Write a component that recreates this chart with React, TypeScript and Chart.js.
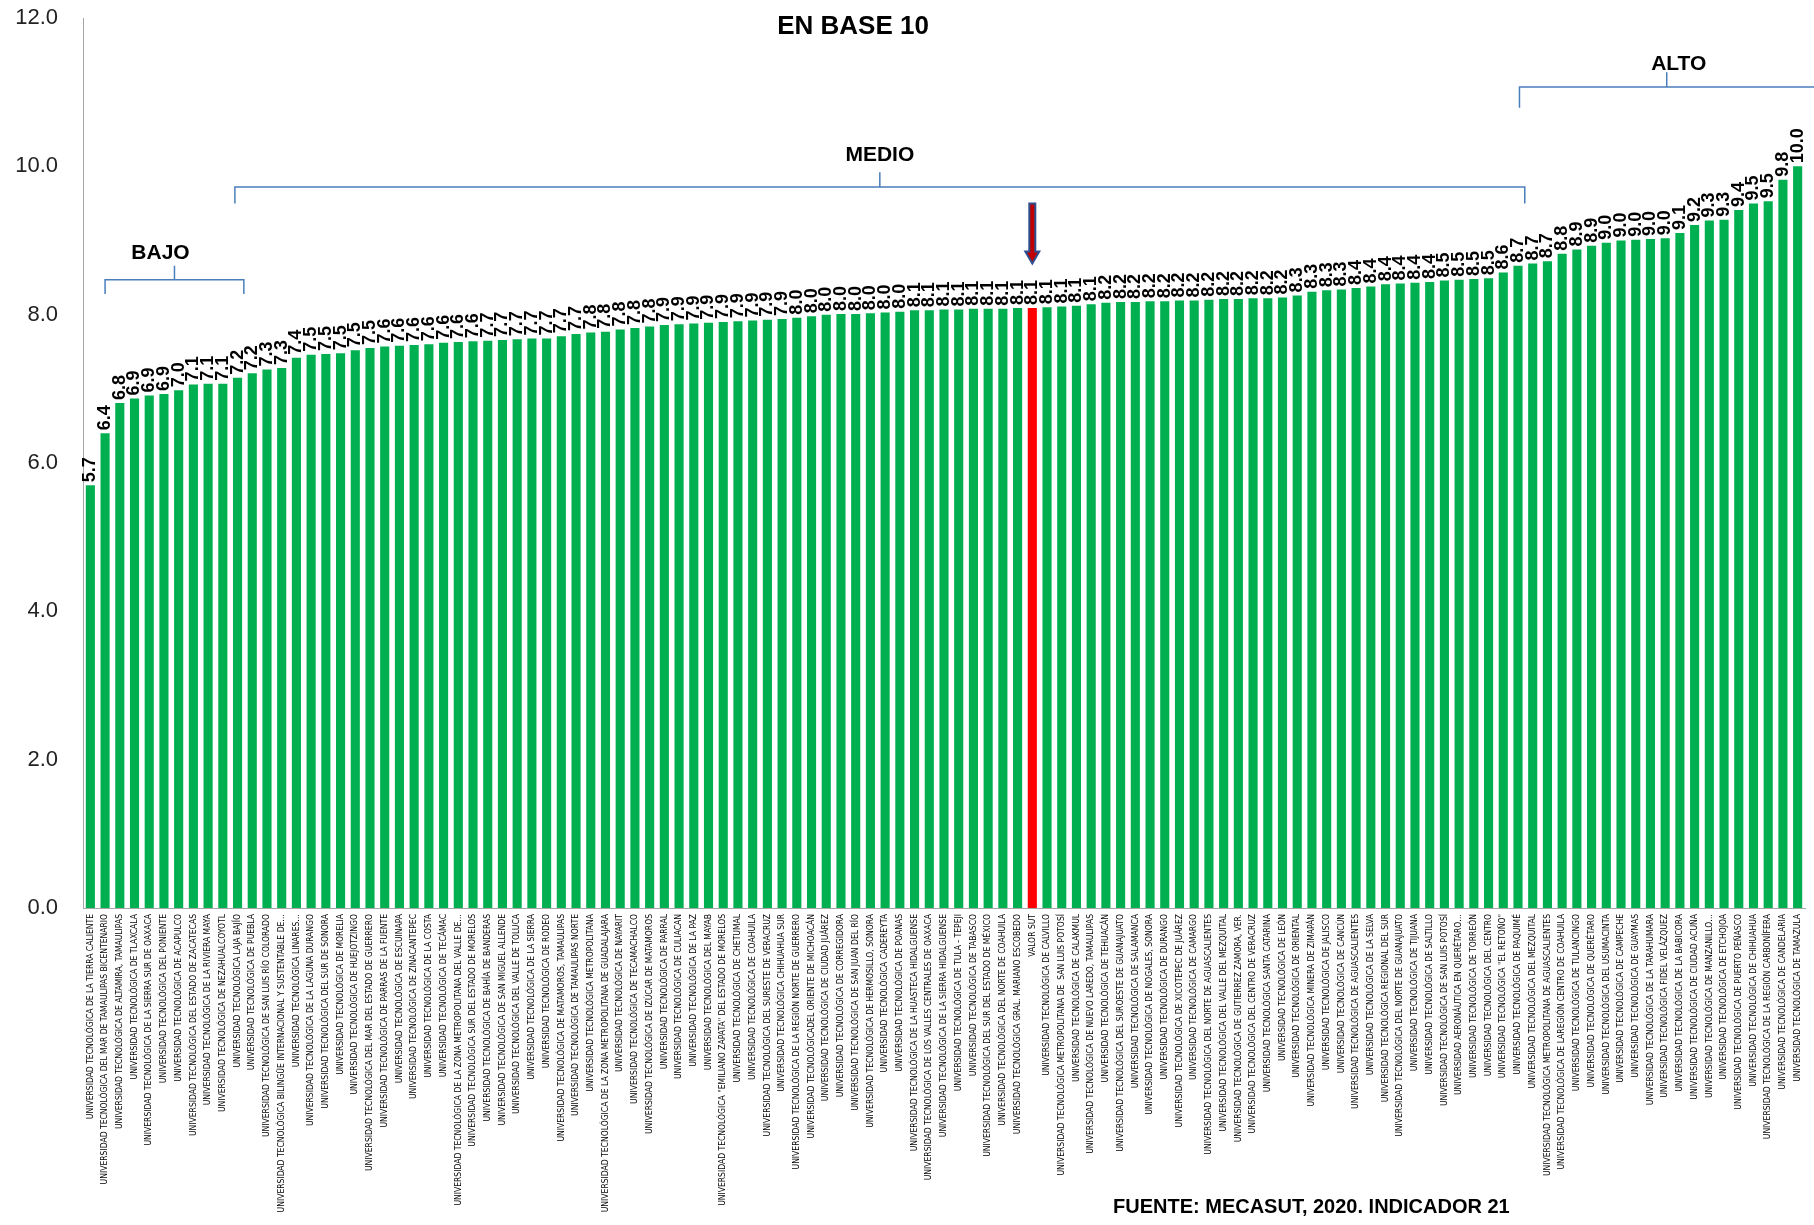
import React, { useEffect, useRef } from 'react';
import { Chart, registerables } from 'chart.js';

Chart.register(...registerables);

const categories: string[] = [
  'UNIVERSIDAD TECNOLÓGICA DE LA TIERRA CALIENTE',
  'UNIVERSIDAD TECNOLÓGICA DEL MAR DE TAMAULIPAS BICENTENARIO',
  'UNIVERSIDAD TECNOLÓGICA DE ALTAMIRA, TAMAULIPAS',
  'UNIVERSIDAD TECNOLÓGICA DE TLAXCALA',
  'UNIVERSIDAD TECNOLÓGICA DE LA SIERRA SUR DE OAXACA',
  'UNIVERSIDAD TECNOLÓGICA DEL PONIENTE',
  'UNIVERSIDAD TECNOLÓGICA DE ACAPULCO',
  'UNIVERSIDAD TECNOLÓGICA DEL ESTADO DE ZACATECAS',
  'UNIVERSIDAD TECNOLÓGICA DE LA RIVIERA MAYA',
  'UNIVERSIDAD TECNOLÓGICA DE NEZAHUALCOYOTL',
  'UNIVERSIDAD TECNOLÓGICA LAJA BAJÍO',
  'UNIVERSIDAD TECNOLÓGICA DE PUEBLA',
  'UNIVERSIDAD TECNOLÓGICA DE SAN LUIS RÍO COLORADO',
  'UNIVERSIDAD TECNOLÓGICA BILINGÜE INTERNACIONAL Y SUSTENTABLE DE…',
  'UNIVERSIDAD TECNOLÓGICA LINARES…',
  'UNIVERSIDAD TECNOLÓGICA DE LA LAGUNA DURANGO',
  'UNIVERSIDAD TECNOLÓGICA DEL SUR DE SONORA',
  'UNIVERSIDAD TECNOLÓGICA DE MORELIA',
  'UNIVERSIDAD TECNOLÓGICA DE HUEJOTZINGO',
  'UNIVERSIDAD TECNOLÓGICA DEL MAR DEL ESTADO DE GUERRERO',
  'UNIVERSIDAD TECNOLÓGICA DE PARRAS DE LA FUENTE',
  'UNIVERSIDAD TECNOLÓGICA DE ESCUINAPA',
  'UNIVERSIDAD TECNOLÓGICA DE ZINACANTEPEC',
  'UNIVERSIDAD TECNOLÓGICA DE LA COSTA',
  'UNIVERSIDAD TECNOLÓGICA DE TECÁMAC',
  'UNIVERSIDAD TECNOLÓGICA DE LA ZONA METROPOLITANA DEL VALLE DE…',
  'UNIVERSIDAD TECNOLÓGICA SUR DEL ESTADO DE MORELOS',
  'UNIVERSIDAD TECNOLÓGICA DE BAHÍA DE BANDERAS',
  'UNIVERSIDAD TECNOLÓGICA DE SAN MIGUEL ALLENDE',
  'UNIVERSIDAD TECNOLÓGICA DEL VALLE DE TOLUCA',
  'UNIVERSIDAD TECNOLÓGICA DE LA SIERRA',
  'UNIVERSIDAD TECNOLÓGICA DE RODEO',
  'UNIVERSIDAD TECNOLÓGICA DE MATAMOROS, TAMAULIPAS',
  'UNIVERSIDAD TECNOLÓGICA DE TAMAULIPAS NORTE',
  'UNIVERSIDAD TECNOLÓGICA METROPOLITANA',
  'UNIVERSIDAD TECNOLÓGICA DE LA ZONA METROPOLITANA DE GUADALAJARA',
  'UNIVERSIDAD TECNOLÓGICA DE NAYARIT',
  'UNIVERSIDAD TECNOLÓGICA DE TECAMACHALCO',
  'UNIVERSIDAD TECNOLÓGICA DE IZÚCAR DE MATAMOROS',
  'UNIVERSIDAD TECNOLÓGICA DE PARRAL',
  'UNIVERSIDAD TECNOLÓGICA DE CULIACAN',
  'UNIVERSIDAD TECNOLÓGICA DE LA PAZ',
  'UNIVERSIDAD TECNOLÓGICA DEL MAYAB',
  'UNIVERSIDAD TECNOLÓGICA "EMILIANO ZAPATA" DEL ESTADO DE MORELOS',
  'UNIVERSIDAD TECNOLÓGICA DE CHETUMAL',
  'UNIVERSIDAD TECNOLÓGICA DE COAHUILA',
  'UNIVERSIDAD TECNOLÓGICA DEL SURESTE DE VERACRUZ',
  'UNIVERSIDAD TECNOLÓGICA CHIHUAHUA SUR',
  'UNIVERSIDAD TECNOLÓGICA DE LA REGIÓN NORTE DE GUERRERO',
  'UNIVERSIDAD TECNOLÓGICADEL ORIENTE DE MICHOACÁN',
  'UNIVERSIDAD TECNOLÓGICA DE CIUDAD JUÁREZ',
  'UNIVERSIDAD TECNOLÓGICA DE CORREGIDORA',
  'UNIVERSIDAD TECNOLÓGICA DE SAN JUAN DEL RÍO',
  'UNIVERSIDAD TECNOLÓGICA DE HERMOSILLO, SONORA',
  'UNIVERSIDAD TECNOLÓGICA CADEREYTA',
  'UNIVERSIDAD TECNOLÓGICA DE POANAS',
  'UNIVERSIDAD TECNOLÓGICA DE LA HUASTECA HIDALGUENSE',
  'UNIVERSIDAD TECNOLÓGICA DE LOS VALLES CENTRALES DE OAXACA',
  'UNIVERSIDAD TECNOLÓGICA DE LA SIERRA HIDALGUENSE',
  'UNIVERSIDAD TECNOLÓGICA DE TULA - TEPEJI',
  'UNIVERSIDAD TECNOLÓGICA DE TABASCO',
  'UNIVERSIDAD TECNOLÓGICA DEL SUR DEL ESTADO DE MÉXICO',
  'UNIVERSIDAD TECNOLÓGICA DEL NORTE DE COAHUILA',
  'UNIVERSIDAD TECNOLÓGICA GRAL. MARIANO ESCOBEDO',
  'VALOR SUT',
  'UNIVERSIDAD TECNOLÓGICA DE CALVILLO',
  'UNIVERSIDAD TECNOLÓGICA METROPOLITANA DE  SAN LUIS POTOSÍ',
  'UNIVERSIDAD TECNOLÓGICA DE CALAKMUL',
  'UNIVERSIDAD TECNOLÓGICA DE NUEVO LAREDO, TAMAULIPAS',
  'UNIVERSIDAD TECNOLÓGICA DE TEHUACÁN',
  'UNIVERSIDAD TECNOLÓGICA DEL SUROESTE DE GUANAJUATO',
  'UNIVERSIDAD TECNOLÓGICA DE SALAMANCA',
  'UNIVERSIDAD TECNOLÓGICA DE NOGALES, SONORA',
  'UNIVERSIDAD TECNOLÓGICA DE DURANGO',
  'UNIVERSIDAD TECNOLÓGICA DE XICOTEPEC DE JUÁREZ',
  'UNIVERSIDAD TECNOLÓGICA DE CAMARGO',
  'UNIVERSIDAD TECNOLÓGICA DEL NORTE DE AGUASCALIENTES',
  'UNIVERSIDAD TECNOLÓGICA DEL VALLE DEL MEZQUITAL',
  'UNIVERSIDAD TECNOLÓGICA DE GUTIERREZ ZAMORA, VER.',
  'UNIVERSIDAD TECNOLÓGICA DEL CENTRO DE VERACRUZ',
  'UNIVERSIDAD TECNOLÓGICA SANTA CATARINA',
  'UNIVERSIDAD TECNOLÓGICA DE LEÓN',
  'UNIVERSIDAD TECNOLÓGICA DE ORIENTAL',
  'UNIVERSIDAD TECNOLÓGICA MINERA DE ZIMAPÁN',
  'UNIVERSIDAD TECNOLÓGICA DE JALISCO',
  'UNIVERSIDAD TECNOLÓGICA DE CANCÚN',
  'UNIVERSIDAD TECNOLÓGICA DE AGUASCALIENTES',
  'UNIVERSIDAD TECNOLÓGICA DE LA SELVA',
  'UNIVERSIDAD TECNOLÓGICA REGIONAL DEL SUR',
  'UNIVERSIDAD TECNOLÓGICA DEL NORTE DE GUANAJUATO',
  'UNIVERSIDAD TECNOLÓGICA DE TIJUANA',
  'UNIVERSIDAD TECNOLÓGICA DE SALTILLO',
  'UNIVERSIDAD TECNOLÓGICA DE SAN LUIS POTOSÍ',
  'UNIVERSIDAD AERONÁUTICA EN QUERÉTARO…',
  'UNIVERSIDAD TECNOLÓGICA DE TORREÓN',
  'UNIVERSIDAD TECNOLÓGICA DEL CENTRO',
  'UNIVERSIDAD TECNOLÓGICA "EL RETOÑO"',
  'UNIVERSIDAD TECNOLÓGICA DE PAQUIMÉ',
  'UNIVERSIDAD TECNOLÓGICA DEL MEZQUITAL',
  'UNIVERSIDAD TECNOLÓGICA METROPOLITANA DE AGUASCALIENTES',
  'UNIVERSIDAD TECNOLÓGICA DE LAREGIÓN CENTRO DE COAHUILA',
  'UNIVERSIDAD TECNOLÓGICA DE TULANCINGO',
  'UNIVERSIDAD TECNOLÓGICA DE QUERÉTARO',
  'UNIVERSIDAD TECNOLÓGICA DEL USUMACINTA',
  'UNIVERSIDAD TECNOLÓGICA DE CAMPECHE',
  'UNIVERSIDAD TECNOLÓGICA DE GUAYMAS',
  'UNIVERSIDAD TECNOLÓGICA DE LA TARAHUMARA',
  'UNIVERSIDAD TECNOLÓGICA FIDEL VELÁZQUEZ',
  'UNIVERSIDAD TECNOLÓGICA DE LA BABICORA',
  'UNIVERSIDAD TECNOLÓGICA DE CIUDAD ACUÑA',
  'UNIVERSIDAD TECNOLÓGICA DE MANZANILLO…',
  'UNIVERSIDAD TECNOLÓGICA DE ETCHOJOA',
  'UNIVERSIDAD TECNOLÓGICA DE PUERTO PEÑASCO',
  'UNIVERSIDAD TECNOLÓGICA DE CHIHUAHUA',
  'UNIVERSIDAD TECNOLÓGICA DE LA REGIÓN CARBONÍFERA',
  'UNIVERSIDAD TECNOLÓGICA DE CANDELARIA',
  'UNIVERSIDAD TECNOLÓGICA DE TAMAZULA',
];

const values: number[] = [
  5.70, 6.40, 6.81, 6.87, 6.91, 6.93, 6.98, 7.06, 7.07, 7.07,
  7.15, 7.21, 7.26, 7.28, 7.42, 7.46, 7.47, 7.48, 7.52, 7.55,
  7.57, 7.58, 7.59, 7.60, 7.62, 7.63, 7.64, 7.65, 7.66, 7.67,
  7.68, 7.68, 7.71, 7.74, 7.76, 7.77, 7.80, 7.82, 7.84, 7.86,
  7.87, 7.88, 7.89, 7.90, 7.91, 7.92, 7.93, 7.94, 7.96, 7.98,
  8.00, 8.01, 8.01, 8.02, 8.03, 8.04, 8.06, 8.06, 8.07, 8.07,
  8.08, 8.08, 8.08, 8.09, 8.09, 8.10, 8.11, 8.12, 8.14, 8.16,
  8.17, 8.17, 8.18, 8.18, 8.19, 8.19, 8.20, 8.21, 8.21, 8.22,
  8.22, 8.23, 8.26, 8.31, 8.33, 8.34, 8.36, 8.38, 8.41, 8.42,
  8.43, 8.44, 8.46, 8.47, 8.48, 8.49, 8.57, 8.66, 8.69, 8.72,
  8.82, 8.88, 8.93, 8.97, 9.00, 9.01, 9.02, 9.03, 9.10, 9.21,
  9.27, 9.28, 9.41, 9.50, 9.53, 9.82, 10.00,
];

const highlightCategory = 'VALOR SUT';
const yTickValues: number[] = [0, 2, 4, 6, 8, 10, 12];
const titleText = 'EN BASE 10';
const sourceText = 'FUENTE: MECASUT, 2020. INDICADOR 21';

// Level brackets (category index range, value level)
const bracketLabels: string[] = ['BAJO', 'MEDIO', 'ALTO'];
const bracketFrom: number[] = [1, 9.82, 97.1];
const bracketTo: number[] = [10.43, 97.46, 118];
const bracketLevel: number[] = [8.47, 9.72, 11.07];

const GREEN = '#00B050';
const RED = '#FF0000';
const BLUE = '#4A7EBB';

const valueLabelPlugin = {
  id: 'valueLabels',
  afterDatasetsDraw(chart: any) {
    const ctx = chart.ctx;
    const meta = chart.getDatasetMeta(0);
    ctx.save();
    ctx.font = 'bold 18px "Liberation Sans", Arial, sans-serif';
    ctx.fillStyle = '#000';
    ctx.textAlign = 'left';
    ctx.textBaseline = 'middle';
    meta.data.forEach((bar: any, i: number) => {
      ctx.save();
      ctx.translate(bar.x, bar.y - 3);
      ctx.rotate(-Math.PI / 2);
      ctx.fillText(values[i].toFixed(1), 0, 0);
      ctx.restore();
    });
    ctx.restore();
  },
};

const decorPlugin = {
  id: 'decor',
  afterDraw(chart: any) {
    const ctx = chart.ctx;
    const xs = chart.scales.x;
    const ys = chart.scales.y;
    const unit = ys.getPixelForValue(0) - ys.getPixelForValue(1);
    ctx.save();
    // Title
    ctx.fillStyle = '#000';
    ctx.font = 'bold 26px "Liberation Sans", Arial, sans-serif';
    ctx.textAlign = 'center';
    ctx.textBaseline = 'middle';
    ctx.fillText(titleText, 853, 27);

    // Brackets
    const textGap = [2, 7, -3];
    bracketLabels.forEach((lab, k) => {
      const x1 = xs.getPixelForValue(bracketFrom[k]);
      const x2 = Math.min(xs.getPixelForValue(bracketTo[k]), chart.width);
      const y = ys.getPixelForValue(bracketLevel[k]);
      const drop = unit * (k === 2 ? 0.28 : k === 1 ? 0.22 : 0.19);
      const rise = unit * (k === 2 ? 0.2 : k === 1 ? 0.2 : 0.19);
      const cx = (x1 + Math.min(x2, chart.width)) / 2;
      ctx.strokeStyle = BLUE;
      ctx.lineWidth = 1.5;
      ctx.beginPath();
      ctx.moveTo(x1, y + drop);
      ctx.lineTo(x1, y);
      ctx.lineTo(x2, y);
      if (k !== 2) ctx.lineTo(x2, y + drop);
      ctx.moveTo(cx, y);
      ctx.lineTo(cx, y - rise);
      ctx.stroke();
      ctx.fillStyle = '#000';
      ctx.font = 'bold 21px "Liberation Sans", Arial, sans-serif';
      ctx.textAlign = 'center';
      ctx.textBaseline = 'bottom';
      ctx.fillText(lab, k === 0 ? cx - 14 : cx + (k === 2 ? 12 : 0), y - rise - textGap[k]);
    });

    // Arrow over highlight
    const hi = categories.indexOf(highlightCategory);
    if (hi >= 0) {
      const ax = xs.getPixelForValue(hi);
      const yTop = ys.getPixelForValue(9.5);
      const yTip = ys.getPixelForValue(8.69);
      const headLen = 12;
      const shaftW = 3;
      const headW = 7;
      ctx.beginPath();
      ctx.moveTo(ax - shaftW, yTop);
      ctx.lineTo(ax + shaftW, yTop);
      ctx.lineTo(ax + shaftW, yTip - headLen);
      ctx.lineTo(ax + headW, yTip - headLen);
      ctx.lineTo(ax, yTip);
      ctx.lineTo(ax - headW, yTip - headLen);
      ctx.lineTo(ax - shaftW, yTip - headLen);
      ctx.closePath();
      ctx.fillStyle = '#C00000';
      ctx.fill();
      ctx.strokeStyle = '#2F4F8F';
      ctx.lineWidth = 2;
      ctx.stroke();
    }

    // Source
    ctx.fillStyle = '#000';
    ctx.font = 'bold 20px "Liberation Sans", Arial, sans-serif';
    ctx.textAlign = 'left';
    ctx.textBaseline = 'middle';
    ctx.fillText(sourceText, 1113, 1207);
    ctx.restore();
  },
};

export default function App() {
  const ref = useRef<HTMLCanvasElement | null>(null);
  useEffect(() => {
    if (!ref.current) return;
    const chart = new Chart(ref.current, {
      type: 'bar',
      data: {
        labels: categories,
        datasets: [
          {
            data: values,
            backgroundColor: categories.map((c) => (c === highlightCategory ? RED : GREEN)),
            barPercentage: 0.62,
            categoryPercentage: 1,
          },
        ],
      },
      options: {
        responsive: false,
        animation: false,
        devicePixelRatio: 1,
        layout: { padding: { top: 18, right: 9, bottom: 0, left: 0 } },
        plugins: {
          legend: { display: false },
          tooltip: { enabled: false },
          title: { display: false },
        },
        scales: {
          x: {
            offset: true,
            grid: { display: false, drawTicks: false },
            border: { display: true, color: '#A6A6A6', width: 1 },
            ticks: {
              autoSkip: false,
              maxRotation: 90,
              minRotation: 90,
              padding: 6,
              color: '#000',
              font: { family: '"Liberation Sans Narrow", "DejaVu Sans Condensed", sans-serif', size: 8.5 },
            },
            afterFit: (scale: any) => {
              scale.height = 317;
            },
          },
          y: {
            min: 0,
            max: 12,
            afterBuildTicks: (scale: any) => {
              scale.ticks = yTickValues.map((v) => ({ value: v }));
            },
            grid: { display: false, drawTicks: false },
            border: { display: true, color: '#A6A6A6', width: 1 },
            ticks: {
              padding: 25,
              color: '#222',
              font: { family: '"Liberation Sans", Arial, sans-serif', size: 22 },
              callback: (v: any) => Number(v).toFixed(1),
            },
            afterFit: (scale: any) => {
              scale.width = 83;
              scale.paddingTop = 10;
              scale.paddingBottom = 10;
            },
          },
        },
      },
      plugins: [valueLabelPlugin, decorPlugin],
    });
    return () => chart.destroy();
  }, []);
  return (
    <div style={{ position: 'fixed', left: 0, top: 0, width: 1814, height: 1225, background: '#fff' }}>
      <canvas ref={ref} width={1814} height={1225} style={{ width: 1814, height: 1225, display: 'block' }} />
    </div>
  );
}
